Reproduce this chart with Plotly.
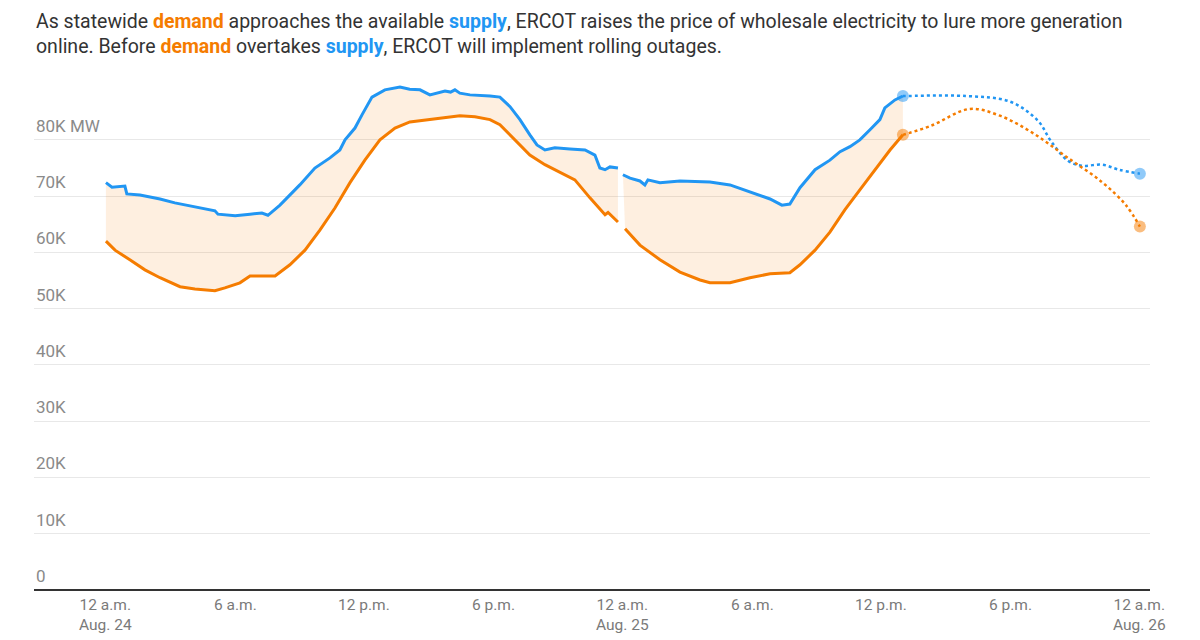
import plotly.graph_objects as go

# ---- data (hours since 12 a.m. Aug. 24, values in MW thousands) ----
supply_h1 = [0.0, 0.28, 0.88, 0.97, 1.58, 2.51, 3.2, 4.13, 5.06, 5.2, 6.0, 6.69, 7.24, 7.52, 8.08,
             9.0, 9.7, 10.4, 10.86, 11.1, 11.56, 11.88, 12.35, 12.95, 13.65, 14.1, 14.58, 15.04, 15.3,
             15.74, 16.0, 16.2, 16.43, 16.9, 17.83, 18.29, 18.76, 19.22, 19.68, 20.01, 20.38, 20.84,
             21.54, 22.24, 22.7, 22.93, 23.17, 23.4, 23.77]
supply_v1 = [72.4, 71.6, 71.8, 70.4, 70.2, 69.5, 68.8, 68.1, 67.4, 66.8, 66.5, 66.8, 67.0, 66.6, 68.4,
             72.0, 75.0, 76.8, 78.2, 80.0, 82.1, 84.4, 87.6, 88.9, 89.4, 89.0, 88.9, 88.0, 88.3,
             88.7, 88.5, 88.9, 88.3, 88.0, 87.8, 87.6, 85.9, 83.6, 80.9, 79.1, 78.2, 78.6,
             78.4, 78.2, 77.3, 75.0, 74.7, 75.2, 75.0]
supply_h2 = [24.0, 24.33, 24.79, 25.02, 25.16, 25.72, 26.65, 28.04, 28.97, 29.9, 30.83, 31.38, 31.75,
             32.22, 32.92, 33.61, 34.08, 34.54, 35.0, 35.47, 35.93, 36.16, 36.63, 37.0]
supply_v2 = [73.8, 73.2, 72.7, 72.0, 72.9, 72.4, 72.7, 72.5, 72.0, 70.8, 69.5, 68.4, 68.6,
             71.5, 74.7, 76.4, 77.9, 78.8, 80.0, 81.8, 83.6, 85.7, 87.1, 87.8]

demand_h1 = [0.0, 0.42, 1.11, 1.81, 2.51, 3.44, 4.13, 5.06, 5.52, 6.22, 6.69, 7.85, 8.54, 9.24,
             9.94, 10.63, 11.33, 12.02, 12.72, 13.42, 14.11, 15.04, 15.74, 16.43, 17.13, 17.83,
             18.29, 18.99, 19.68, 20.38, 21.08, 21.77, 22.47, 22.93, 23.17, 23.31, 23.77]
demand_v1 = [62.0, 60.4, 58.7, 56.9, 55.5, 53.9, 53.5, 53.2, 53.7, 54.6, 55.8, 55.8, 57.8, 60.4,
             64.0, 67.9, 72.4, 76.4, 80.0, 82.1, 83.2, 83.6, 84.0, 84.3, 84.1, 83.6,
             82.7, 80.0, 77.3, 75.6, 74.3, 72.9, 69.7, 67.6, 66.7, 67.1, 65.4]
demand_h2 = [24.1, 24.79, 25.72, 26.65, 27.58, 28.04, 28.97, 29.9, 30.83, 31.75, 32.22, 32.92,
             33.61, 34.31, 35.0, 35.7, 36.4, 37.0]
demand_v2 = [64.2, 61.3, 58.7, 56.5, 55.1, 54.6, 54.6, 55.5, 56.2, 56.4, 57.8, 60.4,
             63.6, 67.6, 71.1, 74.7, 78.2, 80.9]

supply_fc_h = [37.0, 37.1, 39.9, 41.97, 43.27, 43.87, 44.66, 45.3, 46.24, 47.03, 48.0]
supply_fc_v = [87.8, 87.8, 87.8, 86.8, 83.4, 79.8, 76.3, 75.4, 75.6, 74.7, 74.0]
demand_fc_h = [37.0, 38.3, 40.1, 41.5, 43.08, 44.66, 46.24, 47.35, 48.0]
demand_fc_v = [80.9, 82.5, 85.5, 84.3, 81.1, 76.8, 72.5, 68.4, 64.6]

tick_hours = [0, 6, 12, 18, 24, 30, 36, 42, 48]
tick_labels = ["12 a.m.<br>Aug. 24", "6 a.m.", "12 p.m.", "6 p.m.", "12 a.m.<br>Aug. 25",
               "6 a.m.", "12 p.m.", "6 p.m.", "12 a.m.<br>Aug. 26"]
y_ticks = [0, 10, 20, 30, 40, 50, 60, 70, 80]
y_labels = ["0", "10K", "20K", "30K", "40K", "50K", "60K", "70K", "80K MW"]

BLUE = "#2196F3"
ORANGE = "#F57C00"
FILL = "rgba(245,124,0,0.12)"
FONT = "Roboto"

fig = go.Figure()

# shaded gap between supply and demand (two segments, break at midnight)
for sh, sv, dh, dv in [(supply_h1, supply_v1, demand_h1, demand_v1),
                       (supply_h2, supply_v2, demand_h2, demand_v2)]:
    fig.add_trace(go.Scatter(x=sh + dh[::-1], y=sv + dv[::-1], fill="toself",
                             fillcolor=FILL, line=dict(width=0), mode="lines",
                             hoverinfo="skip", showlegend=False))

# actual lines
for h, v, c in [(supply_h1, supply_v1, BLUE), (supply_h2, supply_v2, BLUE),
                (demand_h1, demand_v1, ORANGE), (demand_h2, demand_v2, ORANGE)]:
    fig.add_trace(go.Scatter(x=h, y=v, mode="lines", line=dict(color=c, width=3),
                             showlegend=False))

# forecasts
fig.add_trace(go.Scatter(x=supply_fc_h, y=supply_fc_v, mode="lines",
                         line=dict(color=BLUE, width=2.5, dash="dot", shape="spline"),
                         showlegend=False))
fig.add_trace(go.Scatter(x=demand_fc_h, y=demand_fc_v, mode="lines",
                         line=dict(color=ORANGE, width=2.5, dash="dot", shape="spline"),
                         showlegend=False))

# endpoint markers
fig.add_trace(go.Scatter(x=[supply_fc_h[0], supply_fc_h[-1]], y=[supply_fc_v[0], supply_fc_v[-1]],
                         mode="markers", marker=dict(color=BLUE, size=12, opacity=0.5),
                         showlegend=False))
fig.add_trace(go.Scatter(x=[demand_fc_h[0], demand_fc_h[-1]], y=[demand_fc_v[0], demand_fc_v[-1]],
                         mode="markers", marker=dict(color=ORANGE, size=12, opacity=0.5),
                         showlegend=False))

annotations = []
for v, t in zip(y_ticks, y_labels):
    annotations.append(dict(x=0, xref="paper", y=v, yref="y", text=t, showarrow=False,
                            xanchor="left", yanchor="bottom", yshift=2,
                            font=dict(family=FONT, size=17, color="#8a8a8a")))
for h, t in zip(tick_hours, tick_labels):
    annotations.append(dict(x=h, xref="x", y=0, yref="y", text=t, showarrow=False,
                            xanchor="center", yanchor="top", yshift=-4,
                            font=dict(family=FONT, size=15.5, color="#7a7a7a")))

title = ("As statewide <b><span style='color:%s'>demand</span></b> approaches the available "
         "<b><span style='color:%s'>supply</span></b>, ERCOT raises the price of wholesale electricity "
         "to lure more generation<br>online. Before <b><span style='color:%s'>demand</span></b> overtakes "
         "<b><span style='color:%s'>supply</span></b>, ERCOT will implement rolling outages."
         % (ORANGE, BLUE, ORANGE, BLUE))
annotations.append(dict(x=0, xref="paper", y=1, yref="paper", text=title, showarrow=False,
                        xanchor="left", yanchor="top", yshift=70, align="left",
                        font=dict(family=FONT, size=19.5, color="#333333")))

fig.update_layout(
    width=1200, height=640,
    margin=dict(l=34, r=50, t=78, b=50),
    paper_bgcolor="white", plot_bgcolor="white",
    xaxis=dict(range=[-3.34, 48.47], showgrid=False, showticklabels=False, zeroline=False,
               ticks=""),
    yaxis=dict(range=[0, 91], tickvals=y_ticks[1:], showticklabels=False, showgrid=True,
               gridcolor="#e8e8e8", gridwidth=1, zeroline=True, zerolinecolor="#333333",
               zerolinewidth=1.5),
    annotations=annotations,
    showlegend=False,
)

fig.write_html("out.html")
